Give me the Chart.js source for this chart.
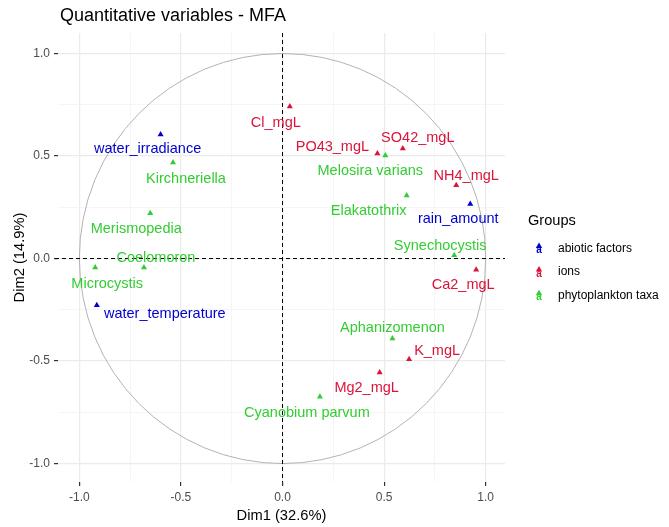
<!DOCTYPE html>
<html>
<head>
<meta charset="utf-8">
<script src="https://cdn.jsdelivr.net/npm/chart.js@4.4.1/dist/chart.umd.min.js"></script>
<style>
  body { margin: 0; background: #fff; }
</style>
</head>
<body>
<canvas id="mfaChart" width="669" height="527"></canvas>
<script>
// Variables per group (coordinates read from the MFA correlation circle)
const abioticNames = ['water_irradiance', 'rain_amount', 'water_temperature'];
const abioticDim1 = [-0.600, 0.924, -0.914];
const abioticDim2 = [0.605, 0.266, -0.228];

const ionNames = ['Cl_mgL', 'PO43_mgL', 'SO42_mgL', 'NH4_mgL', 'Ca2_mgL', 'K_mgL', 'Mg2_mgL'];
const ionDim1 = [0.036, 0.467, 0.592, 0.855, 0.953, 0.623, 0.478];
const ionDim2 = [0.741, 0.512, 0.537, 0.357, -0.055, -0.491, -0.556];

const taxaNames = ['Kirchneriella', 'Merismopedia', 'Coelomoron', 'Microcystis', 'Melosira varians',
                   'Elakatothrix', 'Synechocystis', 'Aphanizomenon', 'Cyanobium parvum'];
const taxaDim1 = [-0.539, -0.651, -0.682, -0.922, 0.506, 0.611, 0.845, 0.541, 0.184];
const taxaDim2 = [0.468, 0.221, -0.044, -0.044, 0.503, 0.307, 0.016, -0.390, -0.674];

const groupNames = ['abiotic factors', 'ions', 'phytoplankton taxa'];
const gridTicks = [-1, -0.75, -0.5, -0.25, 0, 0.25, 0.5, 0.75, 1];

// styles
const groupColors = ['#0000CD', '#DC143C', '#32CD32'];
const FONT = '"Liberation Sans", Arial, sans-serif';

// where the repelled labels sit relative to their point (px)
const labelOffsets = {
    water_irradiance: [-13, 15], rain_amount: [-12, 15], water_temperature: [68, 9],
    Cl_mgL: [-14, 16], PO43_mgL: [-45, -7], SO42_mgL: [15, -10], NH4_mgL: [10, -9],
    Ca2_mgL: [-13, 15], K_mgL: [28, -8], Mg2_mgL: [-13, 15],
    Kirchneriella: [13, 16], Merismopedia: [-14, 16], Coelomoron: [12, -10], Microcystis: [12, 16],
    'Melosira varians': [-15, 16], Elakatothrix: [-38, 15], Synechocystis: [-14, -9],
    Aphanizomenon: [0, -10], 'Cyanobium parvum': [-13, 16]
};

function toPoints(names, xs, ys) {
    return names.map((n, i) => ({ x: xs[i], y: ys[i], name: n }));
}

function isMajor(v) {
    return Math.abs(v * 2 - Math.round(v * 2)) < 1e-9;
}

// circle of correlations + dashed axes
const circlePlugin = {
    id: 'circle',
    beforeDatasetsDraw(chart) {
        const { ctx, chartArea, scales: { x, y } } = chart;
        const cx = x.getPixelForValue(0), cy = y.getPixelForValue(0);
        const rx = x.getPixelForValue(1) - cx, ry = cy - y.getPixelForValue(1);
        ctx.save();
        ctx.strokeStyle = '#b3b3b3';
        ctx.lineWidth = 1;
        ctx.beginPath();
        ctx.ellipse(cx, cy, rx, ry, 0, 0, Math.PI * 2);
        ctx.stroke();

        ctx.strokeStyle = '#000';
        ctx.setLineDash([4, 3]);
        ctx.beginPath();
        ctx.moveTo(cx, chartArea.top);
        ctx.lineTo(cx, chartArea.bottom);
        ctx.moveTo(chartArea.left - 3, cy);
        ctx.lineTo(chartArea.right, cy);
        ctx.stroke();
        ctx.restore();
    }
};

const labelPlugin = {
    id: 'pointLabels',
    afterDatasetsDraw(chart) {
        const ctx = chart.ctx;
        ctx.save();
        ctx.font = '14.5px ' + FONT;
        ctx.textAlign = 'center';
        ctx.textBaseline = 'middle';
        chart.data.datasets.forEach((ds, di) => {
            ctx.fillStyle = ds.backgroundColor;
            chart.getDatasetMeta(di).data.forEach((pt, i) => {
                const name = ds.data[i].name;
                const off = labelOffsets[name] || [0, -12];
                ctx.fillText(name, pt.x + off[0], pt.y + off[1]);
            });
        });
        ctx.restore();
    }
};

// title and ggplot-like legend
const titleLegendPlugin = {
    id: 'titleLegend',
    afterDraw(chart) {
        const ctx = chart.ctx;
        ctx.save();
        ctx.fillStyle = '#000';
        ctx.textBaseline = 'middle';
        ctx.textAlign = 'left';
        ctx.font = '18px ' + FONT;
        ctx.fillText('Quantitative variables - MFA', 60, 16);

        ctx.font = '14.6px ' + FONT;
        ctx.fillText('Groups', 528, 221);

        chart.data.datasets.forEach((ds, i) => {
            const yRow = 248.5 + i * 23.6;
            const kx = 539;
            ctx.fillStyle = ds.backgroundColor;
            ctx.font = 'bold 10px ' + FONT;
            ctx.textAlign = 'center';
            ctx.fillText('a', kx, yRow + 2);
            ctx.beginPath();
            ctx.moveTo(kx, yRow - 6);
            ctx.lineTo(kx + 3.2, yRow - 0.5);
            ctx.lineTo(kx - 3.2, yRow - 0.5);
            ctx.closePath();
            ctx.fill();
            ctx.fillStyle = '#000';
            ctx.textAlign = 'left';
            ctx.font = '12px ' + FONT;
            ctx.fillText(ds.label, 558, yRow);
        });
        ctx.restore();
    }
};

function axisOptions(title, min, max, titlePadding, fitFn) {
    return {
        type: 'linear',
        min: min,
        max: max,
        afterBuildTicks: scale => { scale.ticks = gridTicks.map(v => ({ value: v })); },
        afterFit: fitFn,
        border: { display: false },
        grid: {
            color: c => isMajor(c.tick.value) ? '#ebebeb' : '#f3f3f3',
            lineWidth: c => isMajor(c.tick.value) ? 1.2 : 0.8,
            tickColor: c => isMajor(c.tick.value) ? '#333333' : 'rgba(0,0,0,0)',
            tickLength: 4,
            drawTicks: true
        },
        ticks: {
            autoSkip: false,
            maxRotation: 0,
            padding: 4,
            color: '#4d4d4d',
            font: { family: FONT, size: 12 },
            callback: v => isMajor(v) ? v.toFixed(1) : ''
        },
        title: {
            display: true,
            text: title,
            color: '#000',
            font: { family: FONT, size: 14.7 },
            padding: titlePadding
        }
    };
}

const mfaCtx = document.getElementById('mfaChart').getContext('2d');
const mfaChart = new Chart(mfaCtx, {
    type: 'scatter',
    data: {
        datasets: [
            { label: groupNames[0], data: toPoints(abioticNames, abioticDim1, abioticDim2), backgroundColor: groupColors[0] },
            { label: groupNames[1], data: toPoints(ionNames, ionDim1, ionDim2), backgroundColor: groupColors[1] },
            { label: groupNames[2], data: toPoints(taxaNames, taxaDim1, taxaDim2), backgroundColor: groupColors[2] }
        ].map(ds => Object.assign(ds, {
            pointStyle: 'triangle',
            pointRadius: 3.5,
            pointHoverRadius: 3.5,
            borderWidth: 0
        }))
    },
    options: {
        responsive: false,
        animation: false,
        layout: { padding: { top: 33, right: 164, bottom: 0, left: 0 } },
        plugins: {
            legend: { display: false },
            tooltip: { enabled: false }
        },
        scales: {
            x: axisOptions('Dim1 (32.6%)', -1.105, 1.095, { top: 0, bottom: 2.5 }, s => { s.height = 45; }),
            y: axisOptions('Dim2 (14.9%)', -1.09, 1.1, { top: 11, bottom: 0 }, s => { s.width = 58; })
        }
    },
    plugins: [circlePlugin, labelPlugin, titleLegendPlugin]
});
</script>
</body>
</html>
